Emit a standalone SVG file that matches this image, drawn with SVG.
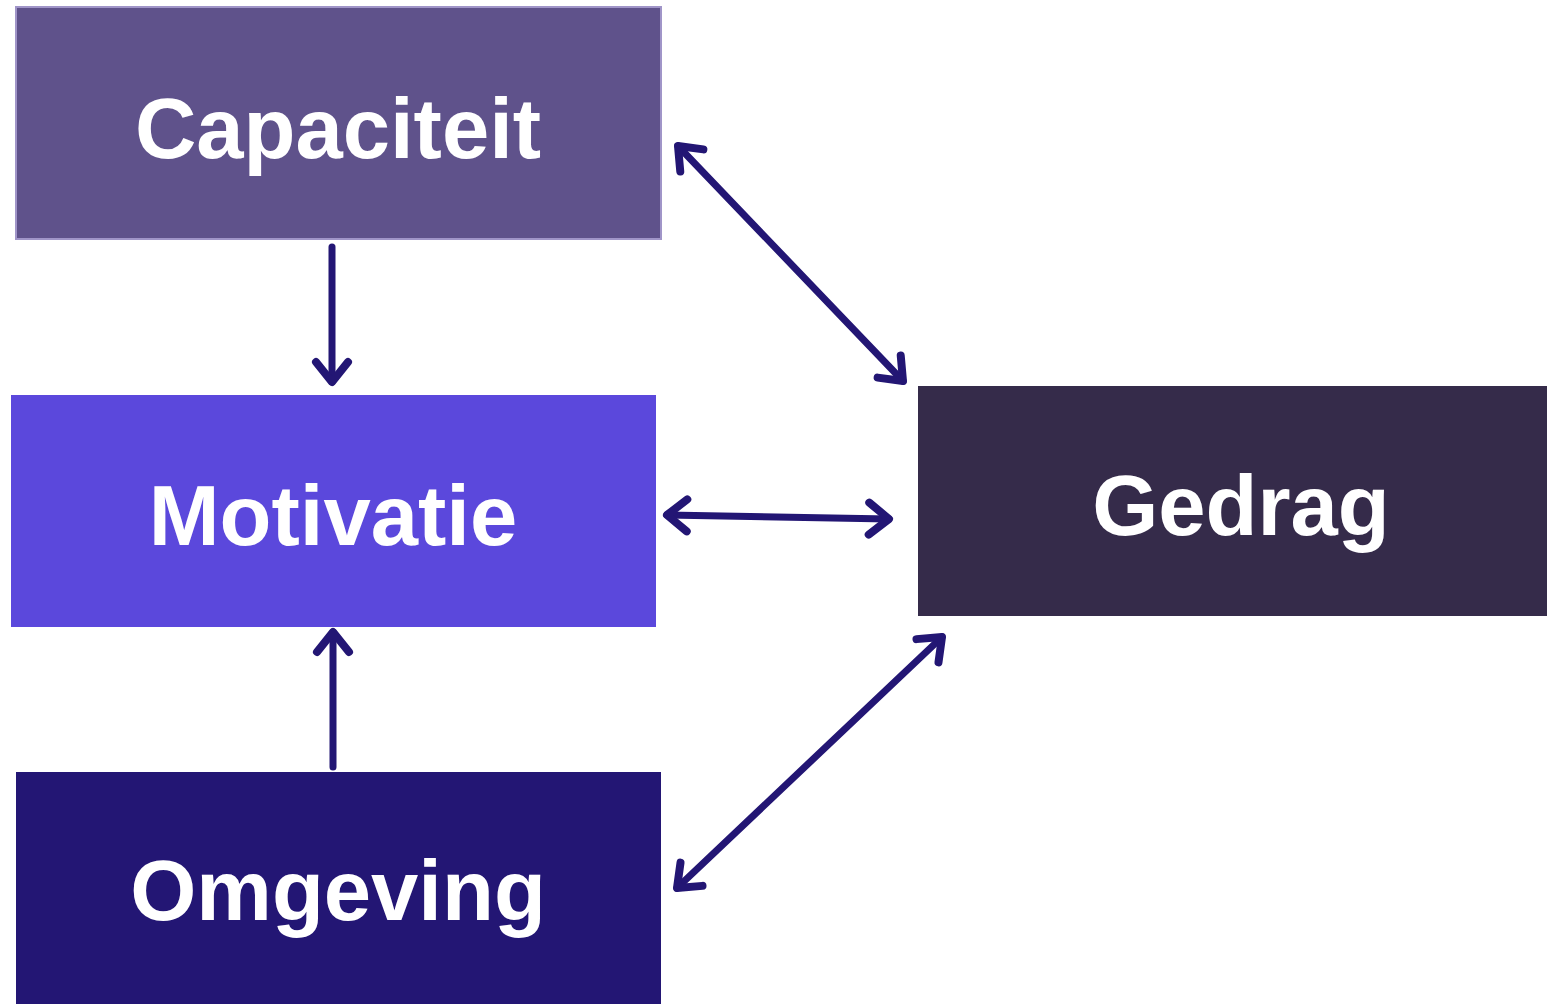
<svg xmlns="http://www.w3.org/2000/svg" width="1547" height="1004" viewBox="0 0 1547 1004">
<style>
.lbl{font-family:"Liberation Sans",Arial,sans-serif;font-weight:bold;font-size:85px;fill:#ffffff;text-anchor:middle}
.con{stroke:#231674;stroke-width:7;fill:none;stroke-linecap:round}
</style>
<defs>
<marker id="ah" markerUnits="userSpaceOnUse" viewBox="-30 -20 40 40" markerWidth="40" markerHeight="40" refX="0" refY="0" orient="auto-start-reverse" overflow="visible">
<path d="M-20,-16 L0,0 L-20,16" fill="none" stroke="#231674" stroke-width="8" stroke-linecap="round" stroke-linejoin="round"/>
</marker>
</defs>
<rect width="1547" height="1004" fill="#ffffff"/>
<g id="capaciteit">
<rect x="16" y="7" width="645" height="232" fill="#5f528b" stroke="#a095c8" stroke-width="2"/>
<text class="lbl" x="338" y="158">Capaciteit</text>
</g>
<g id="motivatie">
<rect x="11" y="395" width="645" height="232" fill="#5b48dc"/>
<text class="lbl" x="333" y="545">Motivatie</text>
</g>
<g id="gedrag">
<rect x="918" y="386" width="629" height="230" fill="#352b4a"/>
<text class="lbl" x="1241" y="535">Gedrag</text>
</g>
<g id="omgeving">
<rect x="16" y="772" width="645" height="232" fill="#231674"/>
<text class="lbl" x="338" y="920">Omgeving</text>
</g>
<g id="connectors">
<line class="con" x1="332" y1="247" x2="332" y2="382" marker-end="url(#ah)"/>
<line class="con" x1="333" y1="767" x2="333" y2="632" marker-end="url(#ah)"/>
<line class="con" x1="667" y1="515" x2="889" y2="519" marker-start="url(#ah)" marker-end="url(#ah)"/>
<line class="con" x1="678" y1="146" x2="903" y2="381" marker-start="url(#ah)" marker-end="url(#ah)"/>
<line class="con" x1="677" y1="888" x2="942" y2="637" marker-start="url(#ah)" marker-end="url(#ah)"/>
</g>
</svg>
